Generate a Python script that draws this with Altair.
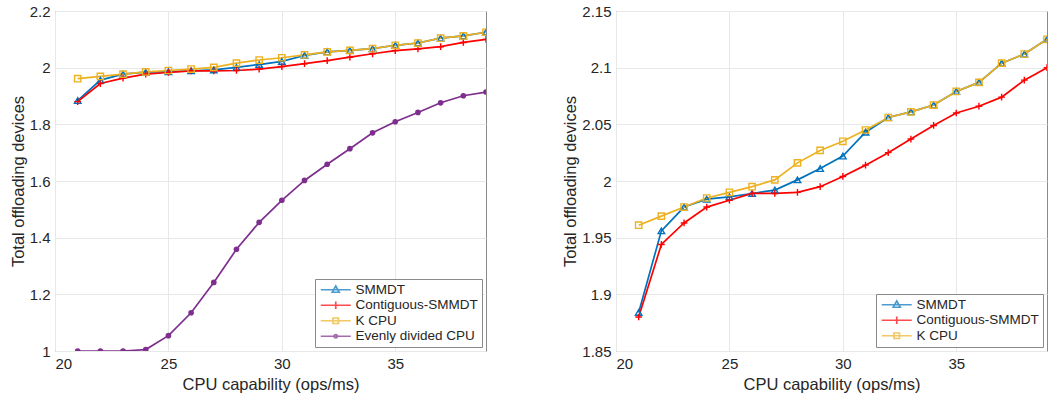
import altair as alt
import pandas as pd

cpu = list(range(21, 40))
smmdt = [1.884, 1.956, 1.977, 1.984, 1.986, 1.989, 1.992, 2.001, 2.011, 2.022,
         2.043, 2.056, 2.061, 2.067, 2.079, 2.087, 2.104, 2.112, 2.125]
contig = [1.880, 1.944, 1.963, 1.977, 1.983, 1.989, 1.989, 1.990, 1.995, 2.004,
          2.014, 2.025, 2.037, 2.049, 2.060, 2.066, 2.074, 2.089, 2.100]
kcpu = [1.961, 1.969, 1.977, 1.985, 1.990, 1.995, 2.001, 2.016, 2.027, 2.035,
        2.045, 2.056, 2.061, 2.067, 2.079, 2.087, 2.104, 2.112, 2.125]
even = [1.000, 1.000, 1.000, 1.005, 1.054, 1.135, 1.242, 1.359, 1.454, 1.532,
        1.602, 1.659, 1.714, 1.770, 1.809, 1.842, 1.876, 1.901, 1.914]

names = ["SMMDT", "Contiguous-SMMDT", "K CPU", "Evenly divided CPU"]
colors = ["#0072BD", "#FF0000", "#EDB120", "#7E2F8E"]
series_vals = [smmdt, contig, kcpu, even]

marker_paths = ["triangle-up", "M-1,0H1M0,-1V1", "square", "circle"]
marker_filled = [False, False, False, True]
legend_paths = [
    "M-3,0H3M0,-0.75L0.7,0.5L-0.7,0.5Z",
    "M-3,0H3M0,-0.75V0.75M-0.75,0H0.75",
    "M-3,0H3M-0.55,-0.55H0.55V0.55H-0.55Z",
    "M-3,0H3M-0.35,0A0.35,0.35,0,1,0,0.35,0A0.35,0.35,0,1,0,-0.35,0Z",
]
marker_sizes = [42, 45, 40, 32]

rows = []
for n, vals in zip(names, series_vals):
    for x, v in zip(cpu, vals):
        rows.append({"cpu": x, "val": v, "series": n})
df = pd.DataFrame(rows)

FONT = "Liberation Sans"


def panel(k, ydom, yticks):
    sub_names = names[:k]
    sub = df[df["series"].isin(sub_names)]
    base = alt.Chart(sub)
    xenc = alt.X("cpu:Q", scale=alt.Scale(domain=[20, 39], nice=False, zero=False),
                 axis=alt.Axis(values=[20, 25, 30, 35], title="CPU capability (ops/ms)"))
    yenc = alt.Y("val:Q", scale=alt.Scale(domain=ydom, nice=False, zero=False),
                 axis=alt.Axis(values=yticks, format="~g", title="Total offloading devices"))
    cscale = alt.Scale(domain=sub_names, range=colors[:k])
    lines = base.mark_line(strokeWidth=1.7, clip=True).encode(
        x=xenc, y=yenc,
        color=alt.Color("series:N", scale=cscale, legend=None),
        detail="series:N",
    )
    layers = [lines]
    for i in range(k):
        pts = base.transform_filter(alt.datum.series == names[i]).mark_point(
            filled=marker_filled[i], strokeWidth=1.4, color=colors[i], shape=marker_paths[i],
            size=marker_sizes[i], clip=True, opacity=1,
        ).encode(x=xenc, y=yenc)
        layers.append(pts)
    dummy = base.transform_filter("false").mark_point(filled=False, strokeWidth=1.7).encode(
        x=xenc, y=yenc,
        color=alt.Color("series:N", scale=cscale,
                        legend=alt.Legend(title=None, orient="bottom-right")),
        shape=alt.Shape("series:N", scale=alt.Scale(domain=sub_names, range=legend_paths[:k]),
                        legend=alt.Legend(title=None, orient="bottom-right")),
    )
    layers.append(dummy)
    return alt.layer(*layers).properties(width=431, height=340).resolve_scale(
        color="independent", shape="independent")


left = panel(4, [1.0, 2.2], [1.0, 1.2, 1.4, 1.6, 1.8, 2.0, 2.2])
right = panel(3, [1.85, 2.15], [1.85, 1.9, 1.95, 2.0, 2.05, 2.1, 2.15])

chart = alt.hconcat(left, right, spacing=75).resolve_scale(
    color="independent", shape="independent").resolve_legend(
    color="independent", shape="independent").configure(
    font=FONT, padding={"left": 9, "top": 3, "right": 0, "bottom": 0},
).configure_view(
    stroke="#8a8a8a", strokeWidth=1,
).configure_axis(
    grid=True, gridColor="#e8e8e8", gridWidth=1, domain=False, ticks=False,
    labelFont=FONT, labelFontSize=15, labelColor="#262626", labelPadding=5,
    titleFont=FONT, titleFontSize=16.5, titleFontWeight="normal", titleColor="#262626",
).configure_axisX(titlePadding=5).configure_axisY(titlePadding=3).configure_legend(
    fillColor="white", strokeColor="#8a8a8a", padding=4, offset=4,
    symbolSize=100, symbolStrokeWidth=1.7, labelFontSize=13.5, labelFont=FONT,
    labelColor="#262626", rowPadding=0.5, labelOffset=13, symbolOffset=10,
)

chart.save("out.html", embed_options={"renderer": "svg", "actions": False})
